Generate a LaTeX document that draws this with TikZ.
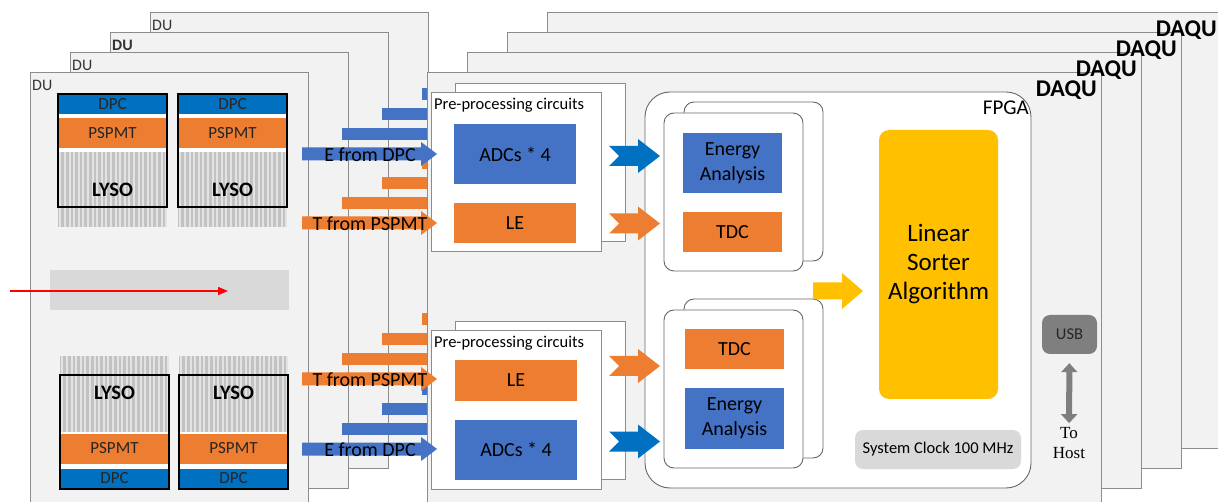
\documentclass[tikz,border=0pt]{standalone}
\usepackage{fontspec}
\setmainfont{Carlito}
\newfontfamily\hostfont{Liberation Serif}
\usetikzlibrary{arrows.meta}

\definecolor{panelfill}{HTML}{F2F2F2}
\definecolor{panelline}{HTML}{8C8C8C}
\definecolor{dpcblue}{HTML}{0070C0}
\definecolor{adcblue}{HTML}{4472C4}
\definecolor{pspmtorange}{HTML}{ED7D31}
\definecolor{sorteryellow}{HTML}{FFC000}
\definecolor{clockgray}{HTML}{D9D9D9}
\definecolor{usbgray}{HTML}{7F7F7F}
\definecolor{lysogray}{HTML}{C2C2C2}
\definecolor{stripewhite}{HTML}{E3E3E3}
\definecolor{gapgray}{HTML}{D9D9D9}

% block arrow: colour, tail x, tip x, y, half shaft, half head, head length
\newcommand{\blockarrow}[7]{%
  \fill[#1] (#2,#4-#5) -- (#3-#7,#4-#5) -- (#3-#7,#4-#6) -- (#3,#4)
    -- (#3-#7,#4+#6) -- (#3-#7,#4+#5) -- (#2,#4+#5) -- cycle;
}
% block arrow with a notched tail: colour, tail x, tip x, y
\newcommand{\notcharrow}[4]{%
  \fill[#1] (#2,#4-10) -- (#3-22,#4-10) -- (#3-22,#4-17) -- (#3,#4)
    -- (#3-22,#4+17) -- (#3-22,#4+10) -- (#2,#4+10) -- (#2+10,#4) -- cycle;
}

\tikzset{
  panel/.style={draw=panelline, fill=panelfill, line width=0.9pt},
  whitebox/.style={draw=panelline, fill=white, line width=0.9pt},
  card/.style={draw=black!60, fill=white, line width=0.9pt, rounded corners=10pt},
  dulabel/.style={anchor=west, inner sep=0pt, text=black!80},
  daqulabel/.style={anchor=east, inner sep=0pt, font=\bfseries\fontsize{24}{28}\selectfont},
  dpcbar/.style={fill=dpcblue, minimum width=109pt, minimum height=20pt, inner sep=0pt,
    text=black!85, font=\fontsize{17}{20}\selectfont},
  pspmtbar/.style={dpcbar, fill=pspmtorange, minimum height=30pt},
  detframe/.style={draw=black, line width=1.4pt},
  stripe/.style={draw=stripewhite, line width=2pt},
  lysolabel/.style={inner sep=0pt, font=\bfseries\fontsize{20.5}{24}\selectfont},
  beam/.style={draw=red, line width=1.2pt, -{Triangle[width=8pt,length=10pt]}},
  boxtitle/.style={anchor=west, inner sep=0pt, font=\fontsize{16.5}{20}\selectfont},
  adcbox/.style={fill=adcblue, minimum width=122pt, minimum height=60pt, inner sep=0pt,
    align=center, font=\fontsize{20}{25}\selectfont},
  lebox/.style={adcbox, fill=pspmtorange, minimum height=40pt},
  energybox/.style={adcbox, minimum width=99pt},
  tdcbox/.style={lebox, minimum width=99pt},
  arrowtext/.style={inner sep=0pt, font=\fontsize{20}{24}\selectfont},
  ebar/.style={fill=adcblue},
  tbar/.style={fill=pspmtorange},
  fpgabox/.style={draw=black!60, fill=white, line width=0.9pt, rounded corners=25pt},
  fpgalabel/.style={anchor=east, inner sep=0pt, font=\fontsize{21}{25}\selectfont},
  sorter/.style={fill=sorteryellow, rounded corners=10pt, minimum width=119pt,
    minimum height=269pt, inner sep=0pt, align=center, font=\fontsize{25}{29}\selectfont},
  clockbox/.style={fill=clockgray, rounded corners=8pt, minimum width=166pt,
    minimum height=39pt, inner sep=0pt, font=\fontsize{16.5}{20}\selectfont},
  usbbox/.style={fill=usbgray, rounded corners=8pt, minimum width=55pt, minimum height=39pt,
    inner sep=0pt, text=black!85, font=\fontsize{16.5}{19}\selectfont},
  hostlabel/.style={align=center, inner sep=0pt, font=\hostfont\fontsize{17}{20}\selectfont},
  hostarrow/.style={draw=usbgray, line width=6pt,
    {Triangle[width=16pt,length=9pt]}-{Triangle[width=16pt,length=9pt]},
    shorten <=9pt, shorten >=4pt},
}

\begin{document}
\begin{tikzpicture}[x=1pt,y=-1pt]
  \fill[white] (0,0) rectangle (1218,502);
  \useasboundingbox (0,0) rectangle (1218,502);
  \clip (0,0) rectangle (1218,502);

  % DAQU units behind the first one
  \foreach \i in {3,2,1} {
    \draw[panel] (427+40*\i,72-20*\i) rectangle +(674,436);
  }

  % DU stack
  \foreach \i/\f in {3/\mdseries,2/\bfseries,1/\mdseries,0/\mdseries} {
    \draw[panel] (30+40*\i,72-20*\i) rectangle +(278,436);
    \node[dulabel, font=\f\fontsize{16}{19}\selectfont] (du\i) at (32+40*\i,85-20*\i) {DU};
  }

  % gap and beam
  \fill[gapgray] (50,270) rectangle (289,310);
  \coordinate (beamin) at (10,291);
  \coordinate (beamout) at (228,291);
  \draw[beam] (beamin) -- (beamout);

  % upper detector heads
  \foreach \x/\n in {58/a,178/b} {
    \fill[lysogray] (\x,152) rectangle +(109,75);
    \foreach \s in {0,...,23} \draw[stripe] (\x+2.3+4.6*\s,152) -- +(0,75);
    \fill[white] (\x,94) rectangle +(109,58);
    \node[dpcbar] (dpc\n) at (\x+54.5,104) {DPC};
    \node[pspmtbar] (pspmt\n) at (\x+54.5,133) {PSPMT};
    \draw[detframe] (\x,94) rectangle +(109,113);
    \node[lysolabel] (lyso\n) at (\x+54.5,190) {LYSO};
  }

  % lower detector heads
  \foreach \x/\n in {60/c,179/d} {
    \fill[lysogray] (\x,356) rectangle +(109,76);
    \foreach \s in {0,...,23} \draw[stripe] (\x+2.3+4.6*\s,356) -- +(0,76);
    \fill[white] (\x,432) rectangle +(109,57);
    \node[pspmtbar] (pspmt\n) at (\x+54.5,448.5) {PSPMT};
    \node[dpcbar] (dpc\n) at (\x+54.5,478.5) {DPC};
    \draw[detframe] (\x,375) rectangle +(109,114);
    \node[lysolabel] (lyso\n) at (\x+54.5,393) {LYSO};
  }

  % signals of the DUs behind
  \foreach \i in {1,2,3} {
    \fill[ebar] (302+40*\i,148-20*\i) rectangle (427,160-20*\i);
    \fill[tbar] (302+40*\i,217-20*\i) rectangle (427,229-20*\i);
    \fill[tbar] (302+40*\i,373-20*\i) rectangle (427,385-20*\i);
    \fill[ebar] (302+40*\i,443-20*\i) rectangle (427,455-20*\i);
  }

  % first DAQU
  \draw[panel] (427,72) rectangle +(674,436);
  \foreach \i in {3,2,1,0} {
    \node[daqulabel] (daqu\i) at (1097+40*\i,90-20*\i) {DAQU};
  }

  % pre-processing circuits
  \foreach \y/\n in {0/a,238/b} {
    \draw[whitebox] (455,83+\y) rectangle +(170,158);
    \draw[whitebox] (431,92+\y) rectangle +(170,159);
    \node[boxtitle] (pre\n) at (434,105+\y) {Pre-processing circuits};
  }
  \node[adcbox] (adca) at (515,154) {ADCs * 4};
  \node[lebox] (lea) at (515,223) {LE};
  \node[lebox] (leb) at (516,380.5) {LE};
  \node[adcbox] (adcb) at (516,449.5) {ADCs * 4};

  % FPGA
  \draw[fpgabox] (645,92) rectangle (1031,488);
  \node[fpgalabel] (fpga) at (1029,108) {FPGA};
  \foreach \y in {0,197} {
    \draw[card] (684,102+\y) rectangle +(139,159);
    \draw[card] (664,113+\y) rectangle +(139,158);
  }
  \node[energybox] (energya) at (732.5,163) {Energy\\Analysis};
  \node[tdcbox] (tdca) at (732.5,232.5) {TDC};
  \node[tdcbox] (tdcb) at (734.5,349) {TDC};
  \node[energybox] (energyb) at (734.5,418.5) {Energy\\Analysis};
  \node[sorter] (sorter) at (938.5,264.5) {Linear\\Sorter\\Algorithm};
  \node[clockbox] (clock) at (938,449.5) {System Clock 100 MHz};

  \notcharrow{dpcblue}{609}{660}{156}
  \notcharrow{pspmtorange}{609}{660}{223.5}
  \notcharrow{pspmtorange}{609}{660}{366}
  \notcharrow{dpcblue}{609}{660}{441.5}
  \blockarrow{sorteryellow}{813}{863}{291}{8.5}{18}{21}

  % USB
  \node[usbbox] (usb) at (1069.5,334.5) {USB};
  \node[hostlabel] (host) at (1069,443) {To\\Host};
  \draw[hostarrow] (usb) -- (host);

  % signals of the first DU
  \blockarrow{adcblue}{302}{437}{154}{6.5}{12}{16}
  \blockarrow{pspmtorange}{302}{437}{223}{6.5}{12}{16}
  \blockarrow{pspmtorange}{302}{437}{379}{6.5}{12}{16}
  \blockarrow{adcblue}{302}{437}{449}{6.5}{12}{16}
  \node[arrowtext] (efroma) at (370,155) {E from DPC};
  \node[arrowtext] (tfroma) at (370,224) {T from PSPMT};
  \node[arrowtext] (tfromb) at (370,380) {T from PSPMT};
  \node[arrowtext] (efromb) at (370,450) {E from DPC};
\end{tikzpicture}
\end{document}
